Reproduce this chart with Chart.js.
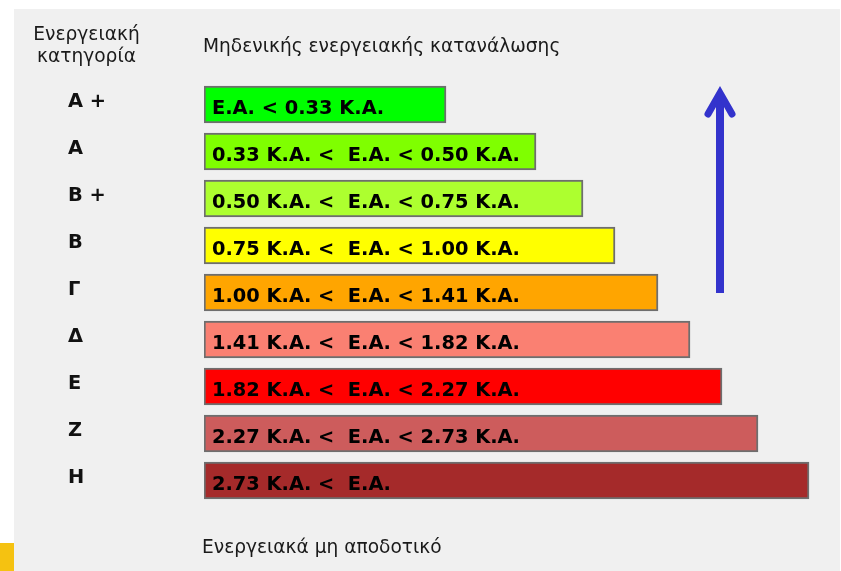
<!DOCTYPE html>
<html lang="el">
<head>
<meta charset="utf-8">
<title>Ενεργειακή κατηγορία</title>
<script src="https://cdn.jsdelivr.net/npm/chart.js@4/dist/chart.umd.min.js"></script>
<style>
  html, body { margin: 0; padding: 0; background: #ffffff; }
  body { width: 841px; height: 571px; position: relative; overflow: hidden; }
  #panel { position: absolute; left: 14px; top: 9px; width: 826px; height: 562px; background: #f0f0f0; }
  #corner { position: absolute; left: 0; top: 543px; width: 14px; height: 28px; background: #f5c211; }
  #chart { position: absolute; left: 0; top: 0; }
</style>
</head>
<body>
<div id="panel"></div>
<div id="corner"></div>
<canvas id="chart" width="841" height="571"></canvas>
<script>
// Energy classes, from the most efficient (top) to the least efficient (bottom)
const categories = ['Α +', 'Α', 'Β +', 'Β', 'Γ', 'Δ', 'Ε', 'Ζ', 'Η'];

// Range text shown inside each bar (Ε.Α. = ενεργειακή απόδοση, Κ.Α. = κτίριο αναφοράς)
const rangeLabels = [
  'Ε.Α. < 0.33 Κ.Α.',
  '0.33 Κ.Α. <  Ε.Α. < 0.50 Κ.Α.',
  '0.50 Κ.Α. <  Ε.Α. < 0.75 Κ.Α.',
  '0.75 Κ.Α. <  Ε.Α. < 1.00 Κ.Α.',
  '1.00 Κ.Α. <  Ε.Α. < 1.41 Κ.Α.',
  '1.41 Κ.Α. <  Ε.Α. < 1.82 Κ.Α.',
  '1.82 Κ.Α. <  Ε.Α. < 2.27 Κ.Α.',
  '2.27 Κ.Α. <  Ε.Α. < 2.73 Κ.Α.',
  '2.73 Κ.Α. <  Ε.Α.'
];

// Length of each class bar on the scale
const barLengths = [242, 332, 379, 411, 454, 486, 518, 554, 605];

// Fill colour of each class
const barColors = ['#00ff00', '#7fff00', '#adff2f', '#ffff00', '#ffa500', '#fa8072', '#ff0000', '#cd5c5c', '#a52a2a'];

const headerLeft = ['Ενεργειακή', 'κατηγορία'];
const topCaption = 'Μηδενικής ενεργειακής κατανάλωσης';
const bottomCaption = 'Ενεργειακά μη αποδοτικό';

const textFont = '"DejaVu Sans", sans-serif';

// Class letters, range texts, captions and the direction arrow
const labelsPlugin = {
  id: 'energyLabels',
  afterDatasetsDraw(chart) {
    const ctx = chart.ctx;
    const yScale = chart.scales.y;
    const meta = chart.getDatasetMeta(0);
    ctx.save();

    // range text inside the bars
    ctx.font = 'bold 19.4px ' + textFont;
    ctx.fillStyle = '#000000';
    ctx.textAlign = 'left';
    ctx.textBaseline = 'alphabetic';
    meta.data.forEach((bar, i) => {
      const left = Math.min(bar.x, bar.base);
      ctx.fillText(rangeLabels[i], left + 8, bar.y + 9.5);
    });

    // class letters on the left
    ctx.fillStyle = '#111111';
    categories.forEach((c, i) => {
      const y = yScale.getPixelForValue(i);
      ctx.fillText(c, 68, y + 2.5);
    });

    // captions
    ctx.font = '18.6px ' + textFont;
    ctx.fillStyle = '#1a1a1a';
    ctx.textAlign = 'center';
    ctx.fillText(headerLeft[0], 86.5, 40);
    ctx.fillText(headerLeft[1], 86.5, 62);
    ctx.textAlign = 'left';
    ctx.fillText(topCaption, 203, 52);
    ctx.fillText(bottomCaption, 202, 553);

    // arrow pointing towards the efficient classes
    ctx.strokeStyle = '#3333cc';
    ctx.lineWidth = 8;
    ctx.lineCap = 'butt';
    ctx.beginPath();
    ctx.moveTo(720, 293);
    ctx.lineTo(720, 96);
    ctx.stroke();
    ctx.lineWidth = 7;
    ctx.lineCap = 'round';
    ctx.lineJoin = 'miter';
    ctx.beginPath();
    ctx.moveTo(708, 114);
    ctx.lineTo(720, 93);
    ctx.lineTo(732, 114);
    ctx.stroke();

    ctx.restore();
  }
};

new Chart(document.getElementById('chart'), {
  type: 'bar',
  data: {
    labels: categories,
    datasets: [{
      data: barLengths,
      backgroundColor: barColors,
      borderColor: '#6e6e6e',
      borderWidth: 2,
      borderSkipped: false,
      barThickness: 37
    }]
  },
  options: {
    indexAxis: 'y',
    responsive: false,
    animation: false,
    events: [],
    layout: { padding: { left: 204, right: 1, top: 81, bottom: 67 } },
    plugins: { legend: { display: false }, tooltip: { enabled: false }, title: { display: false } },
    scales: {
      x: { type: 'linear', min: 0, max: 636, display: false },
      y: { type: 'category', offset: true, display: false }
    }
  },
  plugins: [labelsPlugin]
});
</script>
</body>
</html>
